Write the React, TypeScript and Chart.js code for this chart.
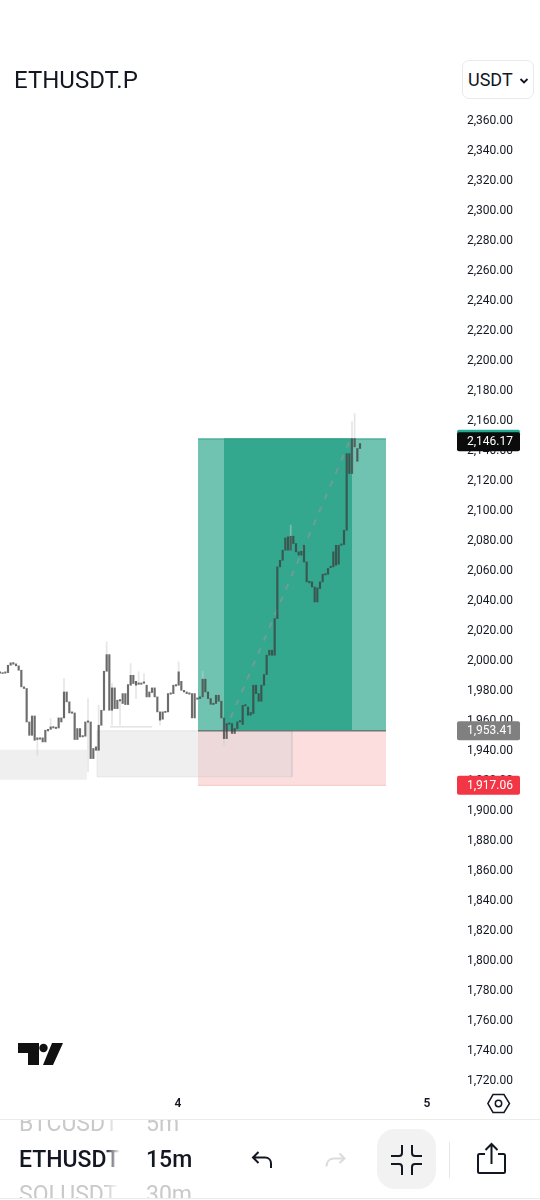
import React, { useEffect, useRef } from "react";
import { Chart, registerables } from "chart.js";

Chart.register(...registerables);

const bodyHigh = [1992.7,1992.2,1992.7,1997.1,1998.7,1998.9,1998,1996.7,1993.8,1982.7,1981.6,1959.3,1963.3,1963.3,1948.7,1948.7,1948.7,1953.8,1954.4,1956,1956.2,1955.8,1962,1962,1979.3,1979.3,1972.7,1966,1965.3,1954.9,1954.9,1950.2,1959.3,1960,1959.3,1941.6,1942.7,1957.1,1967.1,1993.1,2004.2,2004.2,1982,1982,1973.8,1974.2,1978.2,1978.2,1984.2,1990.4,1990.4,1986.4,1985.3,1985.3,1986,1983.8,1979.3,1982,1982,1976,1966,1966,1966.4,1978.2,1978.7,1983.8,1984.2,1992.7,1986.4,1980.4,1979.3,1978.7,1978.2,1978.2,1975.3,1976,1987.8,1987.8,1979.3,1974.9,1971.8,1977.1,1977.1,1973.1,1962,1958.2,1958.7,1958.2,1954.9,1959.3,1960.2,1970.4,1970.9,1969.3,1965.6,1983.8,1983.8,1978.2,1983.8,1990.9,2003.8,2007.1,2007.1,2028.2,2062.7,2067.1,2073.8,2082,2082.7,2083.1,2083.1,2078.2,2072.7,2073.1,2077.1,2066,2053.1,2052.7,2049.3,2048.7,2052.7,2057.8,2058.2,2061.6,2063.1,2072.7,2077.1,2077.1,2078,2087.1,2138.2,2138.2,2148.2,2148.2,2141.6,2144.9];
const bodyLow = [1991.8,1991.6,1991.8,1992.2,1997.1,1997.8,1996.7,1993.8,1982.7,1981.6,1959.3,1950.4,1950.4,1947.1,1947.6,1947.8,1946,1946,1953.3,1954.4,1955.3,1954.9,1955.3,1959.3,1962,1972.7,1965.3,1965.1,1947.6,1947.6,1949.3,1949.3,1949.8,1959.1,1934.9,1934.9,1940.4,1940.4,1957.1,1967.1,1993.1,1967.1,1967.1,1968.2,1968.2,1973.3,1971.6,1970.9,1970.9,1983.8,1984.9,1983.8,1984.4,1984.4,1985.1,1976,1976,1978.9,1976,1966,1960.5,1961.1,1965.6,1966,1977.8,1978.2,1983.3,1983.8,1980.4,1979.3,1978.2,1977.8,1962,1962,1974.4,1974.9,1976,1979.3,1974.9,1971.1,1970.9,1971.6,1973.1,1962,1948.2,1948.2,1957.8,1951.6,1951.6,1954.9,1959.3,1957.6,1970,1963.8,1963.8,1964.9,1978.2,1973.1,1973.1,1983.8,1990.9,2003.8,2003.8,2003.8,2028.2,2062.7,2067.1,2073.8,2073.8,2073.8,2078.2,2072.7,2070.5,2070.5,2066,2052.7,2052,2049.3,2039.3,2039.3,2048.2,2052.7,2057.3,2057.8,2062.2,2062.7,2063.8,2064.5,2077.1,2077.6,2087.1,2124.9,2124.9,2142.7,2133.1,2141.6];

const wickBar = [14,19,24,33,37,40,42,45,49,51,52,54,60,67,76,84,109,132,133];
const wickHigh = [1948.7,1961.6,1988.2,1974.9,1970.4,2012.7,1985,1974.2,1998.2,1986.4,1992.7,1991.6,1966,1999.3,1993,1962,2090.5,2159.3,2164.9];
const wickLow = [1937.1,1954.4,1962,1926,1940.4,1993.1,1957.1,1957.1,1983.8,1974.9,1984.4,1985.1,1957.1,1983.8,1976,1943.8,2073.8,2124.9,2142.7];

const priceTicks = [2360,2340,2320,2300,2280,2260,2240,2220,2200,2180,2160,2140,2120,2100,2080,2060,2040,2020,2000,1980,1960,1940,1920,1900,1880,1860,1840,1820,1800,1780,1760,1740,1720];
const dayTickBars = [66.75, 160.1];
const dayTickLabels = ["4", "5"];

const entryPrice = 1953.41;
const stopPrice = 1917.06;
const targetPrice = 2148;
const positionStart = 74.25;
const positionEnd = 144.75;
const rangeStart = 84;
const rangeEnd = 132;
const leftBox = [0, 32.6, 1940.7, 1920.7];
const middleBox = [36.4, 109.5, 1953.4, 1922.7];
const markerLine = [41.25, 57, 1956];
const pathBars = [84.4, 131];
const pathPrices = [1953.41, 2146.17];

const tagPrices = [2147.7, 2146.17, 1953.41, 1917.06];
const tagTexts = ["", "2,146.17", "1,953.41", "1,917.06"];
const tagColors = ["#22ab94", "#0b0b0b", "#808080", "#f23645"];

const fmt = (v: number) => v.toLocaleString("en-US", { minimumFractionDigits: 2, maximumFractionDigits: 2 });

function zone(x0: number, x1: number, top: number, bottom: number, color: string, border: string, order: number, borderWidth = 1) {
  return {
    type: "line", order, data: [{ x: x0, y: top }, { x: x1, y: top }], fill: { value: bottom },
    backgroundColor: color, borderColor: border, borderWidth, pointRadius: 0, tension: 0,
  };
}
function outline(x0: number, x1: number, top: number, bottom: number, color: string, order: number) {
  return {
    type: "line", order, fill: false, borderColor: color, borderWidth: 1, pointRadius: 0, tension: 0,
    data: [{ x: x0, y: top }, { x: x1, y: top }, { x: x1, y: bottom }, { x: x0, y: bottom }, { x: x0, y: top }],
  };
}

const tagPlugin = {
  id: "priceTags",
  afterDraw(chart: any) {
    const { ctx, chartArea, scales } = chart;
    ctx.save();
    tagPrices.forEach((p, i) => {
      const y = scales.y.getPixelForValue(p);
      ctx.fillStyle = tagColors[i];
      ctx.beginPath();
      ctx.roundRect(chartArea.right - 1, y - 9.5, 63, 19, 2);
      ctx.fill();
      if (tagTexts[i]) {
        ctx.fillStyle = "#ffffff";
        ctx.font = "12px Roboto";
        ctx.textAlign = "left";
        ctx.textBaseline = "middle";
        ctx.fillText(tagTexts[i], 467, y + 0.5);
      }
    });
    ctx.restore();
  },
};

const row: React.CSSProperties = { position: "absolute", whiteSpace: "nowrap", lineHeight: "28px", fontSize: 23 };

export default function App() {
  const ref = useRef<HTMLCanvasElement>(null);
  useEffect(() => {
    const chart = new Chart(ref.current!, {
      type: "bar",
      plugins: [tagPlugin],
      data: {
        datasets: [
          zone(positionStart, positionEnd, entryPrice, stopPrice, "#fddede", "#fbd0d0", 10, 0),
          outline(positionStart, positionEnd, stopPrice, stopPrice, "#f8cfcf", 9.5),
          zone(positionStart, positionEnd, targetPrice, entryPrice, "#6fc3b0", "#2f9e88", 9),
          zone(rangeStart, rangeEnd, targetPrice, entryPrice, "#33a88f", "#2f9e88", 8),
          zone(leftBox[0], leftBox[1], leftBox[2], leftBox[3], "rgba(205,205,205,0.33)", "rgba(0,0,0,0)", 7, 0),
          zone(middleBox[0], middleBox[1], middleBox[2], middleBox[3], "rgba(205,205,205,0.33)", "rgba(0,0,0,0)", 6, 0),
          outline(middleBox[0], middleBox[1], middleBox[2], middleBox[3], "rgba(190,190,190,0.3)", 5.5),
          {
            type: "line", order: 5, fill: false, borderColor: "#6b7a76", borderWidth: 1.5, pointRadius: 0,
            data: [{ x: positionStart, y: entryPrice }, { x: positionEnd, y: entryPrice }],
          },
          {
            type: "line", order: 4, fill: false, borderColor: "#d4d4d4", borderWidth: 1, pointRadius: 0,
            data: [{ x: markerLine[0], y: markerLine[2] }, { x: markerLine[1], y: markerLine[2] }],
          },
          {
            type: "line", order: 3, fill: false, borderColor: "rgba(150,150,150,0.6)", borderWidth: 2, borderDash: [6, 8], pointRadius: 0,
            data: [{ x: pathBars[0], y: pathPrices[0] }, { x: pathBars[1], y: pathPrices[1] }],
          },
          {
            type: "bar", order: 2, grouped: false, barThickness: 1, backgroundColor: "rgba(205,205,205,0.5)",
            data: wickBar.map((b, i) => ({ x: b, y: [wickLow[i], wickHigh[i]] })),
          },
          {
            type: "bar", order: 1, grouped: false, barThickness: 1.5, backgroundColor: "rgba(60,60,60,0.75)",
            data: bodyHigh.map((h, i) => ({ x: i, y: [bodyLow[i], h] })),
          },
        ] as any,
      },
      options: {
        animation: false,
        responsive: false,
        layout: { padding: { bottom: 80 } },
        plugins: { legend: { display: false }, tooltip: { enabled: false } },
        scales: {
          x: {
            type: "linear", offset: false, min: 0, max: 171.75,
            grid: { display: false, drawTicks: false }, border: { display: false },
            afterBuildTicks: (s: any) => { s.ticks = dayTickBars.map((value) => ({ value })); },
            afterFit: (s: any) => { s.height = 25; s.paddingLeft = 0; s.paddingRight = 0; },
            ticks: {
              autoSkip: false, maxRotation: 0, padding: 2, color: "#131722",
              font: { family: "Roboto", size: 12, weight: "600" },
              callback: (v: any) => dayTickLabels[dayTickBars.indexOf(v)] ?? "",
            },
          },
          y: {
            type: "linear", position: "right", min: 1710.6, max: 2440.6,
            grid: { display: false, drawTicks: false }, border: { display: false },
            afterBuildTicks: (s: any) => { s.ticks = priceTicks.map((value) => ({ value })); },
            afterFit: (s: any) => { s.width = 82; s.paddingTop = 0; s.paddingBottom = 0; },
            ticks: {
              autoSkip: false, padding: 9, color: "#131722",
              font: { family: "Roboto", size: 12 },
              callback: (v: any) => fmt(Number(v)),
            },
          },
        },
      } as any,
    });
    return () => chart.destroy();
  }, []);

  const font = "Roboto, sans-serif";
  return (
    <div style={{ position: "absolute", left: 0, top: 0, width: 540, height: 1200, background: "#fff", overflow: "hidden", fontFamily: font, color: "#131722" }}>
      <canvas ref={ref} width={540} height={1200} style={{ position: "absolute", left: 0, top: 0, width: 540, height: 1200 }} />
      <div style={{ position: "absolute", left: 14, top: 65, fontSize: 24, lineHeight: "30px", whiteSpace: "nowrap" }}>ETHUSDT.P</div>
      <div style={{ position: "absolute", left: 462, top: 60, width: 70, height: 37, border: "1px solid #e9e9e9", borderRadius: 7, background: "#fff" }}>
        <span style={{ position: "absolute", left: 5, top: 6.5, fontSize: 18, lineHeight: "24px" }}>USDT</span>
        <svg width="10" height="8" style={{ position: "absolute", left: 56, top: 16 }}><path d="M1.5 2 L5 5.5 L8.5 2" fill="none" stroke="#131722" strokeWidth="1.8" /></svg>
      </div>
      <svg width="50" height="26" viewBox="0 0 50 26" style={{ position: "absolute", left: 18, top: 1042 }}>
        <path d="M0 1H21V23H10V11H0Z M34 1H45L35 23H25Z" fill="#111" />
        <circle cx="25.5" cy="6" r="4.2" fill="#111" />
      </svg>
      <svg width="24" height="24" viewBox="0 0 24 24" style={{ position: "absolute", left: 487, top: 1092 }}>
        <path d="M6 2.5H17L22.5 11.5L17 20.5H6L0.8 11.5Z" fill="none" stroke="#131722" strokeWidth="1.5" />
        <circle cx="11.5" cy="11.5" r="3.2" fill="none" stroke="#131722" strokeWidth="1.5" />
      </svg>

      <div style={{ position: "absolute", left: 0, top: 1119, width: 540, height: 1, background: "#ececec" }} />
      <div style={{ position: "absolute", left: 0, top: 1198, width: 540, height: 1, background: "#ececec" }} />
      <div style={{ position: "absolute", left: 0, top: 1120, width: 540, height: 78, overflow: "hidden" }}>
        <div style={{ position: "absolute", left: 19, top: 0, width: 101, height: 78, overflow: "hidden", WebkitMaskImage: "linear-gradient(to right,#000 85%,transparent)" as any }}>
          <div style={{ ...row, left: 0, top: -10, color: "#c9c9c9" }}>BTCUSDT</div>
          <div style={{ ...row, left: 0, top: 26, fontWeight: 500 }}>ETHUSDT</div>
          <div style={{ ...row, left: 0, top: 61, color: "#c9c9c9" }}>SOLUSDT</div>
        </div>
        <div style={{ ...row, left: 146, top: -10, color: "#c9c9c9" }}>5m</div>
        <div style={{ ...row, left: 146, top: 26, fontWeight: 500 }}>15m</div>
        <div style={{ ...row, left: 146, top: 61, color: "#c9c9c9" }}>30m</div>
      </div>

      <svg width="24" height="22" viewBox="0 0 24 22" style={{ position: "absolute", left: 250, top: 1149 }}>
        <path d="M8.5 3 L3 8.5 L8.5 14 M3 8.5 H15 C19 8.5 21 11.5 21 14.5 V19" fill="none" stroke="#131722" strokeWidth="2" />
      </svg>
      <svg width="24" height="18" viewBox="0 0 24 18" style={{ position: "absolute", left: 324, top: 1151 }}>
        <path d="M15.5 2.5 L20.5 7.5 L15.5 12 M20.5 7.5 H10 C5.5 7.5 2.5 10.5 2.5 15.5" fill="none" stroke="#dcdcdc" strokeWidth="2" />
      </svg>
      <div style={{ position: "absolute", left: 377, top: 1129, width: 59, height: 60, borderRadius: 18, background: "#f2f2f2" }} />
      <svg width="34" height="34" viewBox="0 0 34 34" style={{ position: "absolute", left: 390, top: 1143 }}>
        <path d="M1 13H9C11 13 12 12 12 10V2 M22 2V10C22 12 23 13 25 13H32 M1 21H9C11 21 12 22 12 24V32 M32 21H25C23 21 22 22 22 24V32" fill="none" stroke="#131722" strokeWidth="2" />
      </svg>
      <div style={{ position: "absolute", left: 449, top: 1142, width: 1, height: 36, background: "#e6e6e6" }} />
      <svg width="32" height="34" viewBox="0 0 32 34" style={{ position: "absolute", left: 476, top: 1142 }}>
        <path d="M9 12H3.5C2.5 12 2 12.6 2 13.5V29.5C2 30.6 2.6 31 3.5 31H27.5C28.6 31 29 30.6 29 29.5V13.5C29 12.6 28.5 12 27.5 12H22" fill="none" stroke="#131722" strokeWidth="2" />
        <path d="M15.5 22V2 M9.5 8 L15.5 2 L21.5 8" fill="none" stroke="#131722" strokeWidth="2" />
      </svg>
    </div>
  );
}
